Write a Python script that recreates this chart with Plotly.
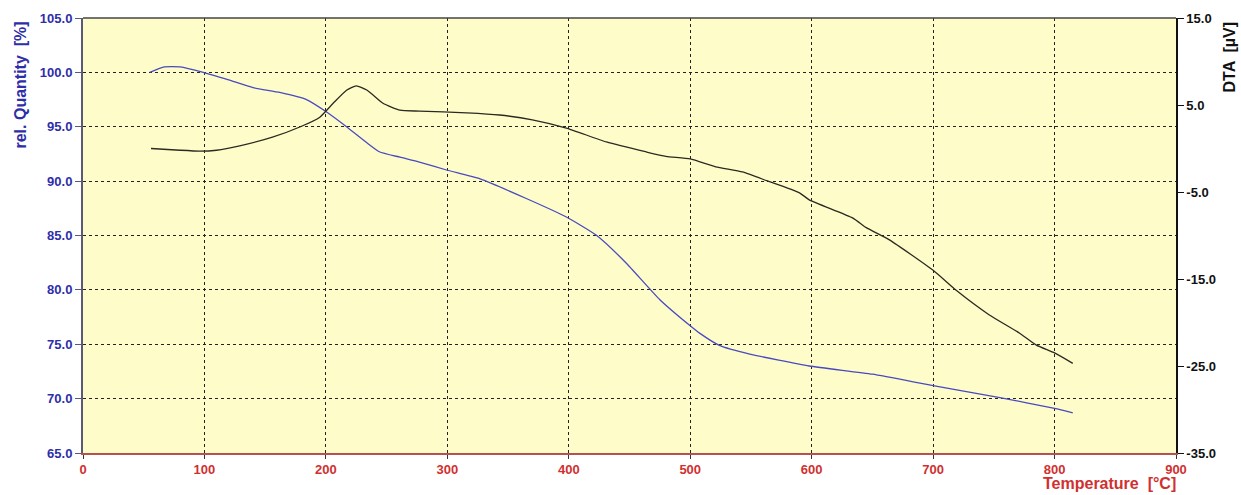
import plotly.graph_objects as go

# Relative mass (TG) curve, left axis
tg_temp = [55, 67, 80, 99, 120, 140, 162, 184, 200, 217, 234, 244, 261, 277, 300, 327, 365,
           398, 423, 447, 475, 500, 508, 524, 549, 598, 650, 700, 755, 800, 815]
tg_value = [100.0, 100.5, 100.5, 100.0, 99.3, 98.6, 98.15, 97.5, 96.4, 95.0, 93.5, 92.7, 92.2,
            91.75, 91.0, 90.2, 88.4, 86.7, 85.0, 82.5, 79.1, 76.7, 76.0, 74.9, 74.1, 73.0,
            72.25, 71.2, 70.1, 69.1, 68.7]

# DTA signal, right axis
dta_temp = [56, 80, 96, 110, 129, 156, 179, 195, 206, 217, 225, 234, 247, 261, 277, 316,
            343, 370, 398, 431, 464, 480, 500, 521, 543, 563, 590, 598, 634, 645, 664,
            700, 719, 746, 771, 785, 800, 815]
dta_value = [0.0, -0.2, -0.3, -0.2, 0.3, 1.3, 2.5, 3.6, 5.2, 6.7, 7.2, 6.7, 5.2, 4.4, 4.3,
             4.1, 3.85, 3.3, 2.35, 0.75, -0.4, -0.9, -1.2, -2.1, -2.7, -3.7, -5.1, -5.9,
             -8.0, -9.1, -10.5, -14.0, -16.3, -19.1, -21.2, -22.6, -23.5, -24.7]

x_ticks = [0, 100, 200, 300, 400, 500, 600, 700, 800, 900]
left_ticks = [65, 70, 75, 80, 85, 90, 95, 100, 105]
right_ticks = [15, 5, -5, -15, -25, -35]

FONT = "Arial, Liberation Sans, sans-serif"
BLUE_TXT = "#2e2ea8"
RED_TXT = "#d03030"

fig = go.Figure()
fig.add_trace(go.Scatter(x=tg_temp, y=tg_value, mode="lines",
                         line=dict(color="#4a4ac0", width=1.3, shape="spline", smoothing=0.5),
                         yaxis="y", showlegend=False, hoverinfo="skip"))
fig.add_trace(go.Scatter(x=dta_temp, y=dta_value, mode="lines",
                         line=dict(color="#2a2a22", width=1.3, shape="spline", smoothing=0.5),
                         yaxis="y2", showlegend=False, hoverinfo="skip"))

fig.update_layout(
    width=1241, height=495,
    margin=dict(l=83, r=65, t=18, b=42, autoexpand=False),
    paper_bgcolor="white",
    plot_bgcolor="#fefdc9",
    xaxis=dict(range=[0, 900], tickvals=x_ticks, showgrid=True, automargin=False,
               gridcolor="#222222", griddash="dot", gridwidth=1,
               showline=True, linecolor="#b85050", linewidth=1.5,
               ticks="outside", ticklen=4, tickcolor="#333333", zeroline=False,
               tickfont=dict(family=FONT, size=13, color=RED_TXT, weight="bold")),
    yaxis=dict(range=[65, 105], tickvals=left_ticks, tickformat=".1f", showgrid=True,
               automargin=False,
               gridcolor="#222222", griddash="dot", gridwidth=1,
               showline=True, linecolor="#5a5a78", linewidth=2,
               ticks="outside", ticklen=6, tickcolor="#5a5a78", zeroline=False,
               tickfont=dict(family=FONT, size=13, color=BLUE_TXT, weight="bold")),
    yaxis2=dict(range=[-35, 15], tickvals=right_ticks,
                ticktext=[f"{v:.1f}" for v in right_ticks],
                overlaying="y", side="right", showgrid=False, zeroline=False,
                automargin=False,
                showline=True, linecolor="#111111", linewidth=1.5,
                ticks="outside", ticklen=6, tickcolor="#111111",
                tickfont=dict(family=FONT, size=13, color="#111111", weight="bold")),
    shapes=[dict(type="line", xref="x domain", yref="y domain", x0=0, x1=1, y0=1, y1=1,
                 line=dict(color="#444444", width=1.5))],
    annotations=[
        dict(text="Temperature  [°C]", xref="paper", yref="paper",
             x=1, xshift=2, y=0, yshift=-20, xanchor="right", yanchor="top",
             showarrow=False,
             font=dict(family=FONT, size=16, color=RED_TXT, weight="bold")),
        dict(text="rel. Quantity  [%]", xref="paper", yref="paper",
             x=0, xshift=-63, y=1, yshift=-2, xanchor="center", yanchor="top",
             textangle=-90, showarrow=False,
             font=dict(family=FONT, size=16, color=BLUE_TXT, weight="bold")),
        dict(text="DTA  [µV]", xref="paper", yref="paper",
             x=1, xshift=53, y=1, yshift=-2, xanchor="center", yanchor="top",
             textangle=-90, showarrow=False,
             font=dict(family=FONT, size=16, color="#111111", weight="bold")),
    ],
)

fig.write_html("out.html")
